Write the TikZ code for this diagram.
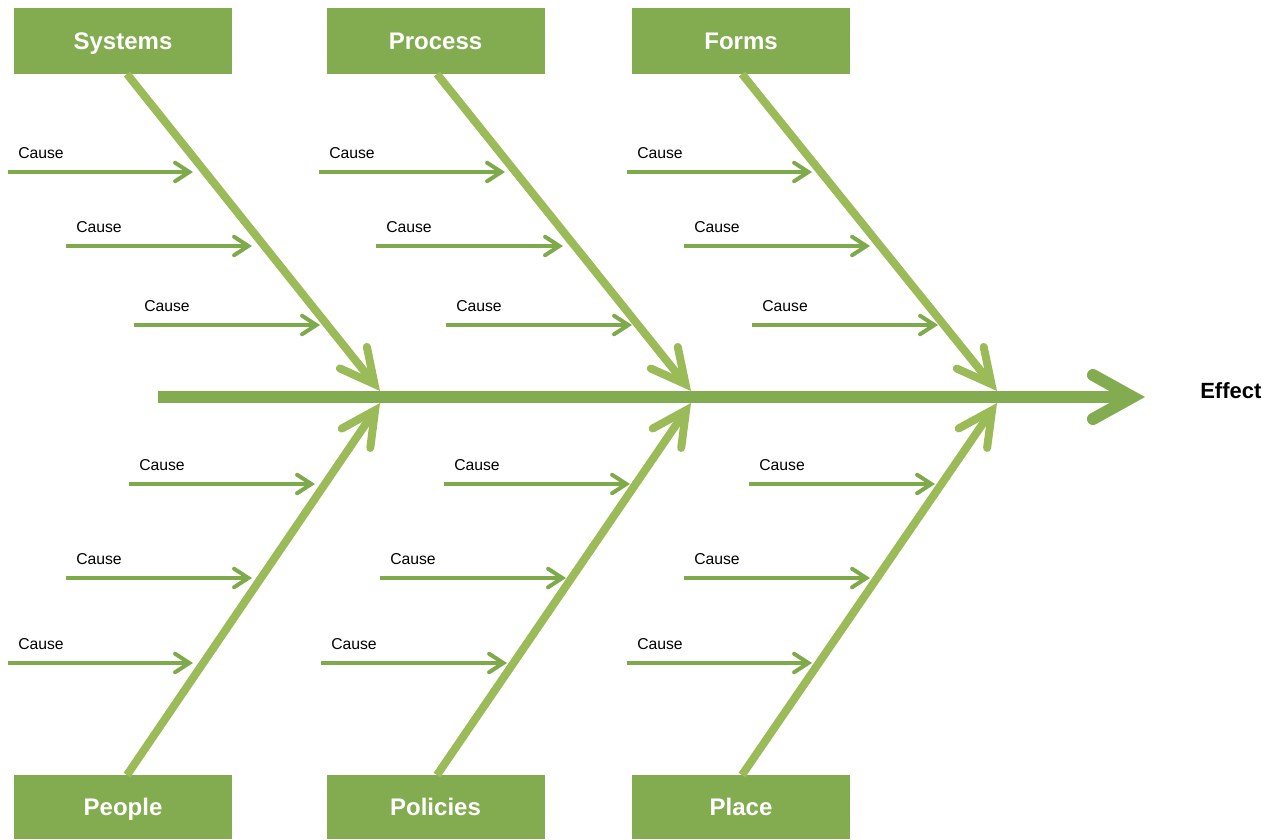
\documentclass[tikz,border=0pt]{standalone}
\usepackage{fontspec}
\setmainfont{Liberation Sans}
\usetikzlibrary{calc}
\definecolor{boxgreen}{HTML}{83AC51}
\definecolor{bonegreen}{HTML}{9BBB59}
\definecolor{causegreen}{HTML}{7FAA4C}
% open chevron head: style, point, point behind, arm length, half angle, miter allowance
\newcommand\chevron[6]{%
  \coordinate (chv) at ($(#2)!#6!(#3)$);
  \draw[#1, line cap=round] ($(chv)!#4!#5:(#3)$) -- (chv) -- ($(chv)!#4!-#5:(#3)$);}
\begin{document}
\begin{tikzpicture}[x=0.75pt,y=-0.75pt,
  catbox/.style={fill=boxgreen, minimum width=163.5pt, minimum height=49.5pt,
    inner sep=0pt, text=white, text height=12.9pt, text depth=0pt,
    font=\bfseries\fontsize{18}{20}\selectfont},
  spineline/.style={draw=boxgreen, line width=9pt},
  boneline/.style={draw=bonegreen, line width=6pt},
  causeline/.style={draw=causegreen, line width=3pt},
  causelabel/.style={anchor=base west, inner sep=0pt, font=\fontsize{11.8}{13}\selectfont},
]
\useasboundingbox (0,0) rectangle (1262,839);

% category boxes
\node[catbox] (sys) at (123,41) {Systems};
\node[catbox] (pro) at (435.5,41) {Process};
\node[catbox] (frm) at (741,41) {Forms};
\node[catbox, minimum height=48pt] (ppl) at (123,807) {People};
\node[catbox, minimum height=48pt] (pol) at (435.5,807) {Policies};
\node[catbox, minimum height=48pt] (plc) at (741,807) {Place};

% spine
\coordinate (spS) at (158,397);
\coordinate (spE) at (1128,397);
\coordinate (spT) at (1145,397);
\draw[spineline] (spS) -- (spE);
\chevron{spineline}{spT}{spS}{34pt}{29}{9.3pt}
\node[anchor=base west, inner sep=0pt, font=\bfseries\fontsize{16.5}{18}\selectfont] (eff) at (1200,398) {Effect};

% bones
\foreach \b/\bx/\by/\tx/\ty in {sys/127/74/380/391, pro/437/74/691/391, frm/742/74/997/391,
    ppl/127/775/380/403, pol/437/775/691/403, plc/742/775/997/403} {
  \coordinate (\b B) at (\bx,\by);
  \coordinate (\b T) at (\tx,\ty);
  \draw[boneline] (\b B) -- ($(\b T)!6.6pt!(\b B)$);
  \chevron{boneline}{\b T}{\b B}{28.5pt}{27}{6.6pt}
}

% causes
\foreach \n/\sx/\tx/\yy in {
    a1/8/193/172, a2/66/252/246, a3/134/320/325,
    b1/319/505/172, b2/376/563/246, b3/446/632/325,
    c1/627/812/172, c2/684/870/246, c3/752/938/325,
    d1/129/315/484, d2/66/252/578, d3/8/193/663,
    e1/444/630/484, e2/380/566/578, e3/321/507/663,
    f1/749/935/484, f2/684/870/578, f3/627/812/663} {
  \coordinate (\n s) at (\sx,\yy);
  \coordinate (\n t) at (\tx,\yy);
  \draw[causeline] (\n s) -- ($(\n t)!2.75pt!(\n s)$);
  \chevron{causeline}{\n t}{\n s}{12.75pt}{33}{2.75pt}
  \node[causelabel] (\n l) at ($(\n s)+(10,-14)$) {Cause};
}
\end{tikzpicture}
\end{document}
